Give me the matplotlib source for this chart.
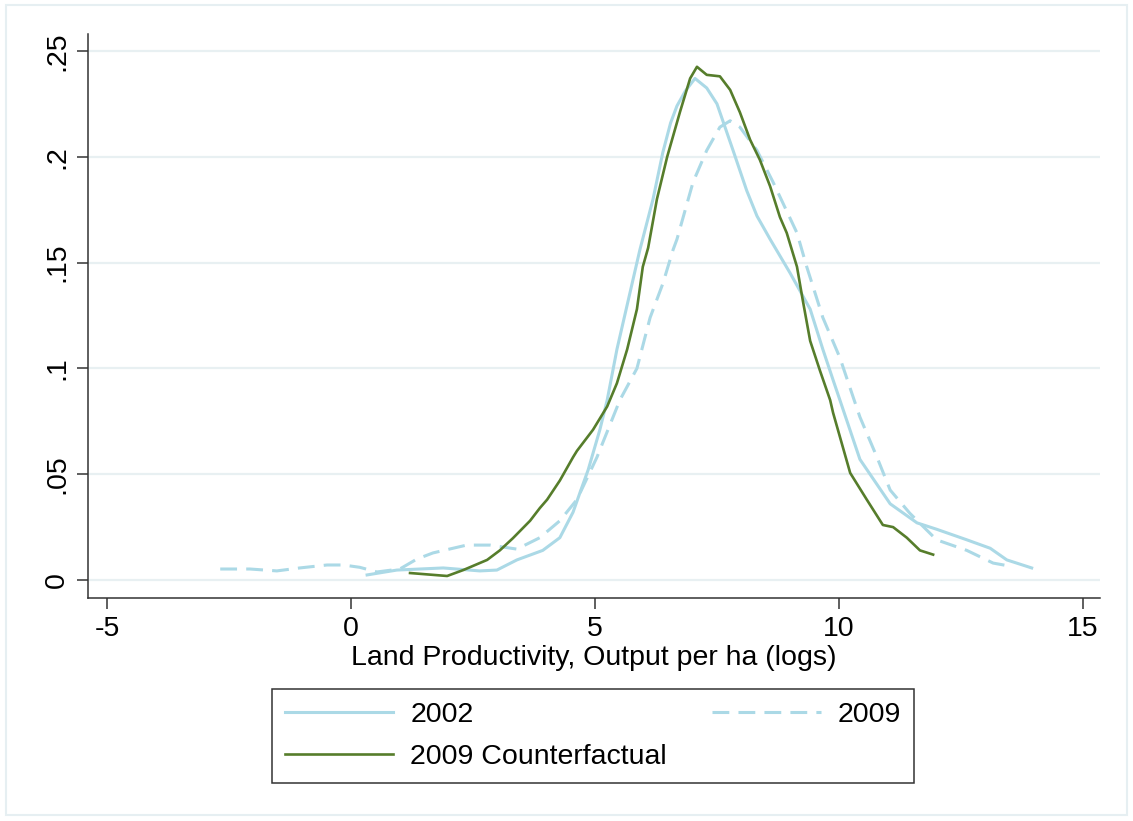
import numpy as np
import matplotlib
matplotlib.use("Agg")
import matplotlib.pyplot as plt
from matplotlib.patches import Rectangle

plt.rcParams['font.family'] = ['Liberation Sans', 'DejaVu Sans']
plt.rcParams['axes.unicode_minus'] = False

# kernel density curves
x2002 = [0.33, 0.94, 1.89, 2.64, 2.99, 3.4, 3.93, 4.28, 4.55, 4.75, 4.86, 5.1, 5.25, 5.45, 5.72,
         5.92, 6.19, 6.39, 6.55, 6.68, 6.85, 7.05, 7.29, 7.5, 7.83, 8.11, 8.32, 8.59, 9.0, 9.41,
         9.67, 9.88, 10.02, 10.43, 11.05, 11.6, 12.0, 12.62, 13.1, 13.44, 13.95]
y2002 = [0.0024, 0.0047, 0.0057, 0.0043, 0.0047, 0.0095, 0.014, 0.020, 0.032, 0.045, 0.052, 0.071,
         0.085, 0.109, 0.136, 0.156, 0.180, 0.202, 0.216, 0.224, 0.231, 0.237, 0.2325, 0.225,
         0.203, 0.184, 0.172, 0.161, 0.145, 0.128, 0.109, 0.0945, 0.085, 0.057, 0.036, 0.027,
         0.024, 0.019, 0.015, 0.0095, 0.0057]

x2009 = [-2.68, -2.07, -1.52, -1.05, -0.49, -0.16, 0.18, 0.53, 1.0, 1.35, 1.68, 2.37, 2.85, 3.4,
         3.87, 4.28, 4.63, 5.04, 5.51, 5.86, 6.13, 6.39, 6.6, 6.68, 7.01, 7.29, 7.56, 7.77, 7.97,
         8.32, 8.65, 9.14, 9.34, 9.67, 10.02, 10.29, 10.43, 10.78, 11.05, 11.45, 12.0, 12.62,
         13.16, 13.4]
y2009 = [0.0052, 0.0052, 0.0043, 0.0057, 0.0071, 0.0071, 0.006, 0.0038, 0.0052, 0.0099, 0.0128,
         0.0165, 0.0165, 0.0146, 0.020, 0.028, 0.038, 0.058, 0.085, 0.100, 0.124, 0.140, 0.156,
         0.161, 0.188, 0.203, 0.214, 0.217, 0.214, 0.203, 0.188, 0.164, 0.148, 0.124, 0.105,
         0.0865, 0.077, 0.058, 0.0425, 0.0316, 0.019, 0.014, 0.008, 0.007]

xcf = [1.21, 1.97, 2.3, 2.79, 3.05, 3.32, 3.67, 3.87, 4.02, 4.28, 4.55, 4.63, 4.96, 5.25, 5.45,
       5.66, 5.86, 5.98, 6.09, 6.27, 6.48, 6.74, 6.95, 7.09, 7.29, 7.56, 7.77, 7.97, 8.18, 8.38,
       8.59, 8.79, 8.93, 9.14, 9.26, 9.41, 9.61, 9.82, 9.88, 10.23, 10.57, 10.9, 11.11, 11.39,
       11.66, 11.93]
ycf = [0.0033, 0.0019, 0.0047, 0.0095, 0.014, 0.0198, 0.028, 0.034, 0.038, 0.047, 0.058, 0.061,
       0.071, 0.082, 0.093, 0.109, 0.128, 0.148, 0.157, 0.180, 0.200, 0.221, 0.237, 0.2425,
       0.2387, 0.238, 0.2316, 0.221, 0.208, 0.1985, 0.186, 0.1715, 0.164, 0.148, 0.132, 0.113,
       0.099, 0.085, 0.079, 0.0506, 0.038, 0.026, 0.025, 0.020, 0.014, 0.012]

xticks = [-5, 0, 5, 10, 15]
yticks = [0, 0.05, 0.1, 0.15, 0.2, 0.25]
yticklabels = ['0', '.05', '.1', '.15', '.2', '.25']

W, H = 1133, 821
fig = plt.figure(figsize=(W / 100, H / 100), dpi=100)
fig.patch.set_facecolor('white')
fig.add_artist(Rectangle((6 / W, 6 / H), 1121 / W, 810 / H, transform=fig.transFigure,
                         fill=False, edgecolor='#e6eff2', linewidth=1.5))

ax = fig.add_axes([88 / W, 1 - 598 / H, (1100 - 88) / W, (598 - 34) / H])

blue = '#abd9e6'
green = '#567d2b'
l1, = ax.plot(x2002, y2002, color=blue, lw=2.2, label='2002')
l2, = ax.plot(x2009, y2009, color=blue, lw=2.2, dashes=(5.5, 3), label='2009')
l3, = ax.plot(xcf, ycf, color=green, lw=1.9, label='2009 Counterfactual')

ax.set_xlim(-5.39, 15.35)
ax.set_ylim(-0.0085, 0.258)
ax.set_xticks(xticks)
ax.set_yticks(yticks)
ax.set_yticklabels(yticklabels, rotation=90, va='center')
for y in yticks:
    ax.axhline(y, color='#e8f0f2', lw=1.6, zorder=0)

for s in ['top', 'right']:
    ax.spines[s].set_visible(False)
for s in ['left', 'bottom']:
    ax.spines[s].set_color('#333333')
    ax.spines[s].set_linewidth(1.1)
ax.tick_params(axis='both', direction='out', length=8, width=1.1, color='#333333',
               labelsize=20.5, pad=5)
ax.set_xlabel('Land Productivity, Output per ha (logs)', fontsize=20.5, labelpad=2)

leg = fig.legend(handles=[l1, l3, l2], ncol=2, loc='center',
                 bbox_to_anchor=(593 / W, 1 - 736 / H), fontsize=20.5, frameon=True,
                 fancybox=False, edgecolor='black', handlelength=3.8, handletextpad=0.6,
                 columnspacing=1.6, borderpad=0.45, labelspacing=0.55)
leg.get_frame().set_linewidth(1.1)

fig.savefig('out.png', dpi=100)
